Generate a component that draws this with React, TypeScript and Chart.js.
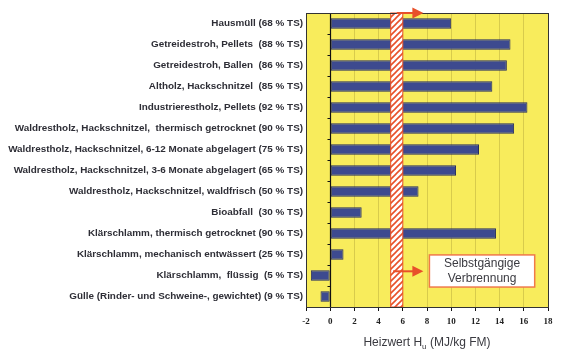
import React, { useEffect, useRef } from "react";
import { Chart, registerables } from "chart.js";

Chart.register(...registerables);

const categories: string[] = [
  "Hausmüll (68 % TS)",
  "Getreidestroh, Pellets  (88 % TS)",
  "Getreidestroh, Ballen  (86 % TS)",
  "Altholz, Hackschnitzel  (85 % TS)",
  "Industrierestholz, Pellets (92 % TS)",
  "Waldrestholz, Hackschnitzel,  thermisch getrocknet (90 % TS)",
  "Waldrestholz, Hackschnitzel, 6-12 Monate abgelagert (75 % TS)",
  "Waldrestholz, Hackschnitzel, 3-6 Monate abgelagert (65 % TS)",
  "Waldrestholz, Hackschnitzel, waldfrisch (50 % TS)",
  "Bioabfall  (30 % TS)",
  "Klärschlamm, thermisch getrocknet (90 % TS)",
  "Klärschlamm, mechanisch entwässert (25 % TS)",
  "Klärschlamm,  flüssig  (5 % TS)",
  "Gülle (Rinder- und Schweine-, gewichtet) (9 % TS)",
];

const heatingValues: number[] = [
  10.0, 14.9, 14.6, 13.4, 16.3, 15.2, 12.3, 10.4, 7.3, 2.6, 13.7, 1.1, -1.6, -0.8,
];

const xMin = -2;
const xMax = 18;
const xStep = 2;

// Self-sustaining combustion threshold band (MJ/kg FM)
const bandFrom = 5;
const bandTo = 6;

const axisTitleMain = "Heizwert H";
const axisTitleSub = "u";
const axisTitleRest = " (MJ/kg FM)";

const boxLines: string[] = ["Selbstgängige", "Verbrennung"];
// annotation box extents in data units (x values, category index values)
const boxX: number[] = [8.2, 16.9];
const boxY: number[] = [11.02, 12.55];
const lowerArrowX: number[] = [5.2, 7.7];
const lowerArrowY = 11.8;
const topArrowX: number[] = [5.5, 7.7];

const YELLOW = "#f8ec5c";
const BAR = "#3d4a8f";
const BAR_BORDER = "#262d5e";
const RED = "#e8502a";
const TEXT = "#2e2e36";

function makeHatch(ctx: CanvasRenderingContext2D): CanvasPattern | string {
  const c = document.createElement("canvas");
  const s = 6;
  c.width = s;
  c.height = s;
  const g = c.getContext("2d");
  if (!g) return RED;
  g.fillStyle = "#ffffff";
  g.fillRect(0, 0, s, s);
  g.strokeStyle = RED;
  g.lineWidth = 1.6;
  g.beginPath();
  g.moveTo(0, s);
  g.lineTo(s, 0);
  g.moveTo(-s / 2, s / 2);
  g.lineTo(s / 2, -s / 2);
  g.moveTo(s / 2, s + s / 2);
  g.lineTo(s + s / 2, s / 2);
  g.stroke();
  return ctx.createPattern(c, "repeat") || RED;
}

function arrow(ctx: CanvasRenderingContext2D, x1: number, x2: number, y: number) {
  ctx.save();
  ctx.strokeStyle = RED;
  ctx.fillStyle = RED;
  ctx.lineWidth = 2;
  ctx.beginPath();
  ctx.moveTo(x1, y);
  ctx.lineTo(x2 - 8, y);
  ctx.stroke();
  ctx.beginPath();
  ctx.moveTo(x2, y);
  ctx.lineTo(x2 - 11, y - 5.5);
  ctx.lineTo(x2 - 11, y + 5.5);
  ctx.closePath();
  ctx.fill();
  ctx.restore();
}

const decorPlugin = {
  id: "decor",
  beforeDraw(chart: any) {
    const { ctx, chartArea } = chart;
    ctx.save();
    ctx.fillStyle = "#ffffff";
    ctx.fillRect(0, 0, chart.width, chart.height);
    ctx.fillStyle = YELLOW;
    ctx.fillRect(chartArea.left, chartArea.top, chartArea.right - chartArea.left, chartArea.bottom - chartArea.top);
    ctx.restore();
  },
  afterDatasetsDraw(chart: any) {
    const { ctx, chartArea, scales } = chart;
    const xs = scales.x;
    const ys = scales.y;
    const top = chartArea.top;
    const bottom = chartArea.bottom;

    // y axis line at value 0 with ticks at category boundaries
    const x0 = Math.round(xs.getPixelForValue(0)) + 0.5;
    ctx.save();
    ctx.strokeStyle = "#111";
    ctx.lineWidth = 1.2;
    ctx.beginPath();
    ctx.moveTo(x0, top);
    ctx.lineTo(x0, bottom);
    for (let i = 0; i <= categories.length; i++) {
      const yy = Math.round(ys.getPixelForValue(i - 0.5)) + 0.5;
      ctx.moveTo(x0 - 3, yy);
      ctx.lineTo(x0, yy);
    }
    ctx.stroke();
    ctx.restore();

    // hatched band
    const bx1 = xs.getPixelForValue(bandFrom);
    const bx2 = xs.getPixelForValue(bandTo);
    ctx.save();
    ctx.fillStyle = makeHatch(ctx);
    ctx.fillRect(bx1, top, bx2 - bx1, bottom - top);
    ctx.strokeStyle = RED;
    ctx.lineWidth = 1;
    ctx.strokeRect(bx1, top, bx2 - bx1, bottom - top);
    ctx.restore();

    // plot border
    ctx.save();
    ctx.strokeStyle = "#333";
    ctx.lineWidth = 1;
    ctx.strokeRect(
      Math.round(chartArea.left) + 0.5,
      Math.round(top) + 0.5,
      Math.round(chartArea.right - chartArea.left),
      Math.round(bottom - top)
    );
    ctx.restore();

    // arrows
    arrow(ctx, xs.getPixelForValue(topArrowX[0]), xs.getPixelForValue(topArrowX[1]), top);
    arrow(ctx, xs.getPixelForValue(lowerArrowX[0]), xs.getPixelForValue(lowerArrowX[1]), ys.getPixelForValue(lowerArrowY));

    // annotation box
    const l = xs.getPixelForValue(boxX[0]);
    const r = xs.getPixelForValue(boxX[1]);
    const t = ys.getPixelForValue(boxY[0]);
    const b = ys.getPixelForValue(boxY[1]);
    ctx.save();
    ctx.fillStyle = "#ffffff";
    ctx.fillRect(l, t, r - l, b - t);
    ctx.strokeStyle = "#f07a4a";
    ctx.lineWidth = 1.5;
    ctx.strokeRect(l, t, r - l, b - t);
    ctx.fillStyle = "#3a3a40";
    ctx.font = "12px 'Liberation Sans', Arial, sans-serif";
    ctx.textAlign = "center";
    ctx.textBaseline = "middle";
    const cx = (l + r) / 2;
    const cy = (t + b) / 2;
    ctx.fillText(boxLines[0], cx, cy - 7);
    ctx.fillText(boxLines[1], cx, cy + 7.5);
    ctx.restore();

    // x axis title with subscript
    ctx.save();
    ctx.fillStyle = "#3a3a40";
    ctx.textBaseline = "alphabetic";
    const mainFont = "12px 'Liberation Sans', Arial, sans-serif";
    const subFont = "8px 'Liberation Sans', Arial, sans-serif";
    ctx.font = mainFont;
    const w1 = ctx.measureText(axisTitleMain).width;
    const w3 = ctx.measureText(axisTitleRest).width;
    ctx.font = subFont;
    const w2 = ctx.measureText(axisTitleSub).width;
    const total = w1 + w2 + w3;
    const start = (chartArea.left + chartArea.right) / 2 - total / 2;
    const base = 346;
    ctx.font = mainFont;
    ctx.textAlign = "left";
    ctx.fillText(axisTitleMain, start, base);
    ctx.font = subFont;
    ctx.fillText(axisTitleSub, start + w1, base + 3);
    ctx.font = mainFont;
    ctx.fillText(axisTitleRest, start + w1 + w2, base);
    ctx.restore();
  },
};

export default function App() {
  const canvasRef = useRef<HTMLCanvasElement | null>(null);

  useEffect(() => {
    const canvas = canvasRef.current;
    if (!canvas) return;
    const chart = new Chart(canvas, {
      type: "bar",
      data: {
        labels: categories,
        datasets: [
          {
            data: heatingValues,
            backgroundColor: BAR,
            borderColor: BAR_BORDER,
            borderWidth: 1,
            borderSkipped: false,
            barPercentage: 0.5,
            categoryPercentage: 1,
          },
        ],
      },
      options: {
        indexAxis: "y",
        responsive: false,
        animation: false,
        layout: { padding: { top: 13, right: 14, left: 0, bottom: 0 } },
        plugins: {
          legend: { display: false },
          tooltip: { enabled: false },
        },
        scales: {
          x: {
            min: xMin,
            max: xMax,
            ticks: {
              stepSize: xStep,
              color: "#222",
              padding: 5,
              font: { family: "'Liberation Serif', 'Times New Roman', serif", size: 9, weight: "bold" },
            },
            grid: {
              color: "#d8cb4c",
              lineWidth: 1,
              drawTicks: true,
              tickLength: 4,
              tickColor: "#111",
            },
            border: { display: true, color: "#111", width: 1 },
            afterFit(scale: any) {
              scale.height = 48;
            },
          },
          y: {
            ticks: {
              color: TEXT,
              padding: 3,
              autoSkip: false,
              font: { family: "'Liberation Sans', Arial, sans-serif", size: 9.9, weight: "bold" },
            },
            grid: { display: false, drawTicks: false },
            border: { display: false },
            afterFit(scale: any) {
              scale.width = 306;
            },
          },
        },
      },
      plugins: [decorPlugin],
    } as any);
    return () => chart.destroy();
  }, []);

  return (
    <div style={{ position: "fixed", left: 0, top: 0, width: 562, height: 355, background: "#fff" }}>
      <canvas ref={canvasRef} width={562} height={355} style={{ display: "block" }} />
    </div>
  );
}
